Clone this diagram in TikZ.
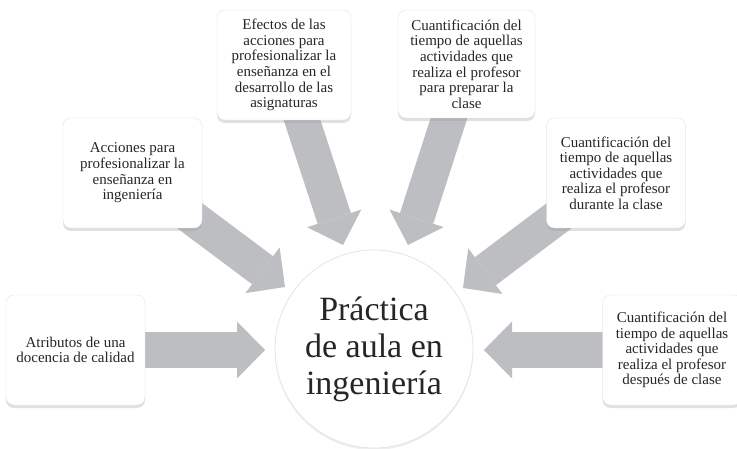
\documentclass[tikz,border=0pt]{standalone}
\usepackage{fontspec}
\setmainfont{Liberation Serif}
\usetikzlibrary{arrows.meta,positioning,shadows,backgrounds}
\definecolor{PAArrow}{HTML}{BDBEC2}
\definecolor{PAInk}{HTML}{262626}
\definecolor{PARim}{HTML}{E4E4E4}
\definecolor{PAShade}{HTML}{9A9A9A}
\tikzset{
  push/.style={-{Triangle[length=28pt,width=57pt,line width=0pt]},PAArrow,line width=35pt},
  card/.style={fill=white,draw=PARim,line width=0.4pt,rounded corners=8pt,
               minimum width=139pt,minimum height=110pt,align=center,text=PAInk,
               font=\fontsize{15}{15.6}\selectfont,
               drop shadow={shadow xshift=0pt,shadow yshift=-3pt,opacity=0.3,fill=PAShade}},
  hub/.style={circle,fill=white,draw=PARim,line width=0.8pt,minimum size=198pt,
              align=center,text=PAInk,font=\fontsize{34}{37}\selectfont,
              drop shadow={shadow xshift=0pt,shadow yshift=-2pt,opacity=0.15,fill=PAShade}},
}
\begin{document}
\begin{tikzpicture}[x=1pt,y=-1pt]
  \useasboundingbox (0,0) rectangle (737,449);
  % boxes round the hub
  \node[card] (attr) at (75.5,350) {Atributos de una\\docencia de calidad};
  \node[card] (acc) at (132.5,173) {Acciones para\\profesionalizar la\\enseñanza en\\ingeniería};
  \node[card,minimum width=134pt] (efe) at (284,65) {Efectos de las\\acciones para\\profesionalizar la\\enseñanza en el\\desarrollo de las\\asignaturas};
  \node[card,minimum width=137pt,minimum height=108pt] (prep) at (466.5,64) {Cuantificación del\\tiempo de aquellas\\actividades que\\realiza el profesor\\para preparar la\\clase};
  \node[card] (dur) at (616,173) {Cuantificación del\\tiempo de aquellas\\actividades que\\realiza el profesor\\durante la clase};
  \node[card] (desp) at (672,350) {Cuantificación del\\tiempo de aquellas\\actividades que\\realiza el profesor\\después de clase};
  \node[hub] (aula) at (374,349) {Práctica\\de aula en\\ingeniería};
  % arrow tips
  \coordinate (t1) at (265,350);
  \coordinate (t2) at (285,287);
  \coordinate (t3) at (343,245);
  \coordinate (t4) at (408,245);
  \coordinate (t5) at (463,288);
  \coordinate (t6) at (484,350);
  \begin{scope}[on background layer]
    \fill[white] (0,0) rectangle (737,449);
    \draw[push] (attr.center) -- (t1);
    \draw[push] (acc.center) -- (t2);
    \draw[push] (efe.center) -- (t3);
    \draw[push] (prep.center) -- (t4);
    \draw[push] (dur.center) -- (t5);
    \draw[push] (desp.center) -- (t6);
  \end{scope}
\end{tikzpicture}
\end{document}
